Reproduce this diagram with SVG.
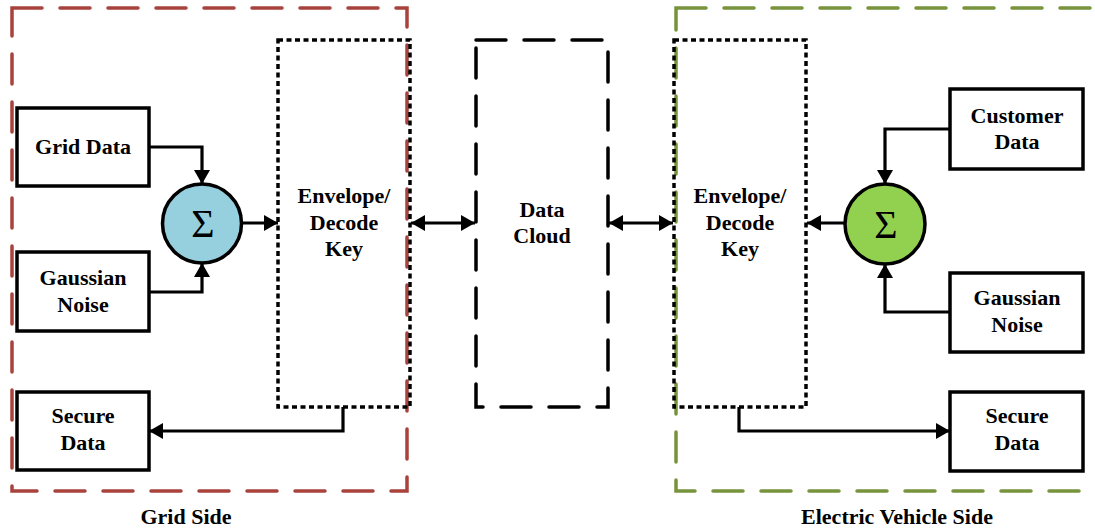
<svg xmlns="http://www.w3.org/2000/svg" width="1095" height="531" viewBox="0 0 1095 531">
  <style>
    .lbl { font-family: "Liberation Serif", "Times New Roman", serif; font-weight: bold; font-size: 22px; fill: #000; text-anchor: middle; }
    .sigma { font-family: "Liberation Serif", "Times New Roman", serif; font-size: 40px; fill: #000; text-anchor: middle; }
    .box { fill: #fff; stroke: #000; stroke-width: 3.5; }
    .dotted { fill: none; stroke: #000; stroke-width: 3.5; stroke-dasharray: 5 3.5; }
    .dashed { fill: none; stroke: #000; stroke-width: 3.5; stroke-dasharray: 30 18; stroke-linecap: round; }
    .zone { fill: none; stroke-width: 3.5; stroke-dasharray: 30 18; stroke-linecap: round; }
    .wire { fill: none; stroke: #000; stroke-width: 3.2; }
  </style>
  <defs>
    <marker id="arrow" viewBox="0 0 14 16" refX="14" refY="8" markerWidth="14" markerHeight="16" markerUnits="userSpaceOnUse" orient="auto-start-reverse">
      <path d="M0,0 L14,8 L0,16 Z" fill="#000"/>
    </marker>
  </defs>

  <rect width="1095" height="531" fill="#fff"/>

  <!-- side zones -->
  <g id="grid-side">
    <rect class="zone" x="12" y="8" width="395" height="483" stroke="#A8423C"/>
    <text class="lbl" x="186" y="524">Grid Side</text>
  </g>
  <g id="ev-side">
    <rect class="zone" x="676" y="8" width="440" height="483" stroke="#77933C"/>
    <text class="lbl" x="897" y="524">Electric Vehicle Side</text>
  </g>

  <!-- grid side nodes -->
  <g id="grid-data">
    <rect class="box" x="17" y="108" width="132" height="78"/>
    <text class="lbl" x="83" y="154">Grid Data</text>
  </g>
  <g id="grid-noise">
    <rect class="box" x="17" y="252" width="132" height="79"/>
    <text class="lbl" x="83" y="285">Gaussian</text>
    <text class="lbl" x="83" y="312">Noise</text>
  </g>
  <g id="grid-secure">
    <rect class="box" x="17" y="392" width="132" height="78"/>
    <text class="lbl" x="83" y="423">Secure</text>
    <text class="lbl" x="83" y="450">Data</text>
  </g>
  <g id="grid-sum">
    <circle cx="202" cy="223.5" r="39.5" fill="#96CFDD" stroke="#000" stroke-width="3.5"/>
    <text class="sigma" x="203" y="237">Σ</text>
  </g>
  <g id="grid-envelope">
    <rect class="dotted" x="278" y="40" width="132" height="367"/>
    <text class="lbl" x="344" y="203">Envelope/</text>
    <text class="lbl" x="344" y="230">Decode</text>
    <text class="lbl" x="344" y="256">Key</text>
  </g>

  <!-- cloud -->
  <g id="data-cloud">
    <rect class="dashed" x="476" y="40" width="132" height="367"/>
    <text class="lbl" x="542" y="217">Data</text>
    <text class="lbl" x="542" y="243">Cloud</text>
  </g>

  <!-- EV side nodes -->
  <g id="ev-envelope">
    <rect class="dotted" x="674" y="40" width="132" height="367"/>
    <text class="lbl" x="740" y="203">Envelope/</text>
    <text class="lbl" x="740" y="230">Decode</text>
    <text class="lbl" x="740" y="256">Key</text>
  </g>
  <g id="ev-sum">
    <circle cx="885" cy="224" r="40" fill="#92D050" stroke="#000" stroke-width="3.5"/>
    <text class="sigma" x="886" y="238">Σ</text>
  </g>
  <g id="ev-customer">
    <rect class="box" x="950" y="89" width="133" height="80"/>
    <text class="lbl" x="1017" y="123">Customer</text>
    <text class="lbl" x="1017" y="149">Data</text>
  </g>
  <g id="ev-noise">
    <rect class="box" x="950" y="273" width="133" height="79"/>
    <text class="lbl" x="1017" y="305">Gaussian</text>
    <text class="lbl" x="1017" y="332">Noise</text>
  </g>
  <g id="ev-secure">
    <rect class="box" x="950" y="392" width="133" height="79"/>
    <text class="lbl" x="1017" y="423">Secure</text>
    <text class="lbl" x="1017" y="450">Data</text>
  </g>

  <!-- connectors -->
  <g id="connectors">
    <path class="wire" d="M149,147 H202 V184" marker-end="url(#arrow)"/>
    <path class="wire" d="M149,292 H202 V263" marker-end="url(#arrow)"/>
    <path class="wire" d="M241.5,223 H278" marker-end="url(#arrow)"/>
    <path class="wire" d="M343,407 V431 H149" marker-end="url(#arrow)"/>
    <path class="wire" d="M411,223 H475" marker-start="url(#arrow)" marker-end="url(#arrow)"/>
    <path class="wire" d="M609,223 H673" marker-start="url(#arrow)" marker-end="url(#arrow)"/>
    <path class="wire" d="M950,129 H885 V184" marker-end="url(#arrow)"/>
    <path class="wire" d="M950,312 H885 V264" marker-end="url(#arrow)"/>
    <path class="wire" d="M845,223 H807" marker-end="url(#arrow)"/>
    <path class="wire" d="M739,407 V431 H950" marker-end="url(#arrow)"/>
  </g>
</svg>
